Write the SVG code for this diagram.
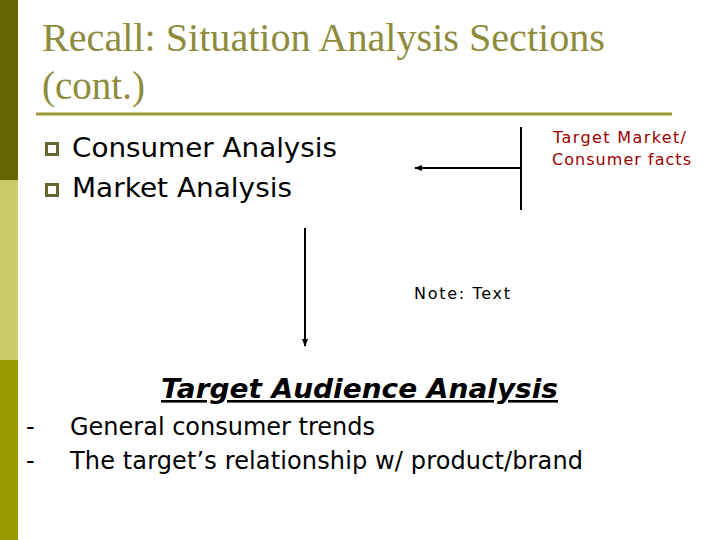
<svg xmlns="http://www.w3.org/2000/svg" width="720" height="540" viewBox="0 0 720 540">
<style>
.t{font-family:"Liberation Serif",serif;font-size:39px;fill:#8c8c3c}
.b{font-family:"DejaVu Sans",sans-serif;font-size:27px;fill:#000}
.s{font-family:"DejaVu Sans",sans-serif;font-size:16px}
.l{stroke:#000;stroke-width:2;fill:none}
</style>
<defs><marker id="a" markerWidth="8" markerHeight="8" refX="7" refY="4" orient="auto" markerUnits="userSpaceOnUse"><path d="M0,1 L8,4 L0,7 Z" fill="#000"/></marker></defs>
<rect width="720" height="540" fill="#fff"/>
<rect x="0" y="0" width="18" height="180" fill="#666600"/>
<rect x="0" y="180" width="18" height="180" fill="#cccc66"/>
<rect x="0" y="360" width="18" height="180" fill="#999900"/>
<g id="title"><text class="t" x="42" y="51" textLength="563" lengthAdjust="spacingAndGlyphs">Recall: Situation Analysis Sections</text><text class="t" x="42" y="99">(cont.)</text>
<line x1="36" y1="114" x2="672" y2="114" stroke="#999933" stroke-width="3"/></g>
<g id="bullets">
<rect x="46.5" y="143.5" width="11" height="11" fill="none" stroke="#666633" stroke-width="3"/>
<rect x="46.5" y="184.5" width="11" height="11" fill="none" stroke="#666633" stroke-width="3"/>
<text class="b" x="72" y="157" textLength="265" lengthAdjust="spacingAndGlyphs">Consumer Analysis</text>
<text class="b" x="72" y="197" textLength="220" lengthAdjust="spacingAndGlyphs">Market Analysis</text></g>
<g id="target"><text class="s" fill="#990000" x="553" y="143" textLength="133">Target Market/</text><text class="s" fill="#990000" x="552" y="165" textLength="139">Consumer facts</text></g>
<g id="note"><text class="s" fill="#000" x="414" y="299" textLength="96">Note: Text</text></g>
<g id="connectors">
<line class="l" x1="521" y1="127" x2="521" y2="210"/>
<line class="l" x1="521" y1="168" x2="415" y2="168" marker-end="url(#a)"/>
<line class="l" x1="305" y1="228" x2="305" y2="346" stroke-width="3" marker-end="url(#a)"/>
</g>
<g id="tas">
<text x="161" y="398" textLength="397" lengthAdjust="spacingAndGlyphs" style="font-family:'DejaVu Sans',sans-serif;font-size:26px;font-weight:bold;font-style:italic;text-decoration:underline">Target Audience Analysis</text>
<text class="b" x="26" y="435" style="font-size:24px">-</text><text class="b" x="70" y="435" style="font-size:24px" textLength="305">General consumer trends</text>
<text class="b" x="26" y="469" style="font-size:24px">-</text><text class="b" x="70" y="469" style="font-size:24px" textLength="513">The target’s relationship w/ product/brand</text>
</g>
</svg>
